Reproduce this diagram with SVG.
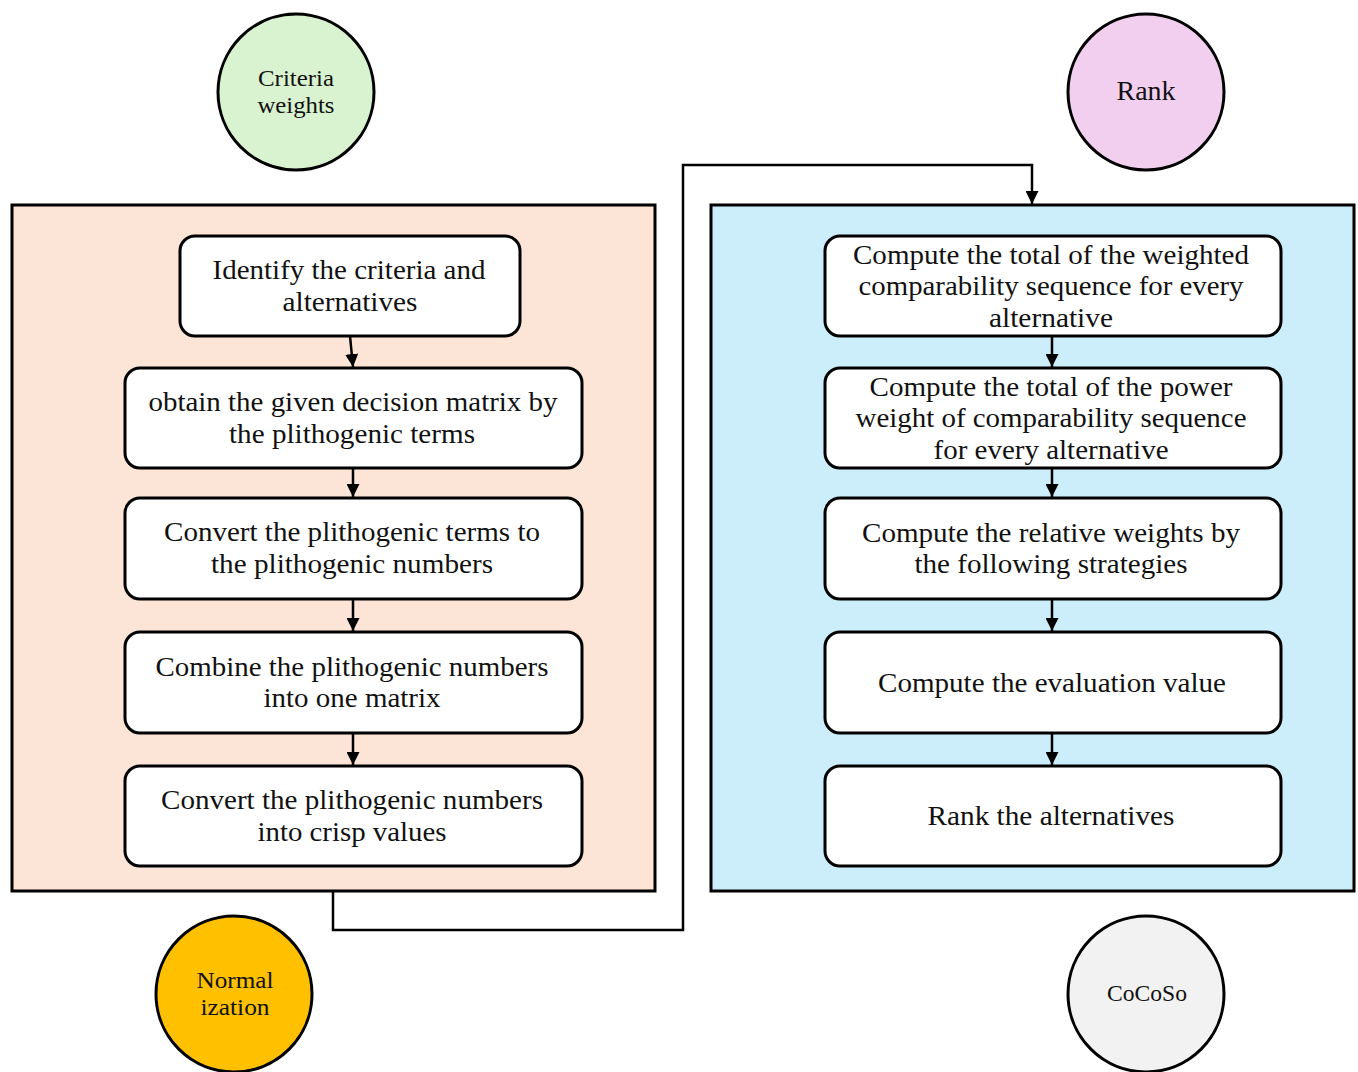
<svg xmlns="http://www.w3.org/2000/svg" width="1358" height="1072" viewBox="0 0 1358 1072">
<defs>
<marker id="ah" markerWidth="13" markerHeight="13" refX="13" refY="6.5" orient="auto" markerUnits="userSpaceOnUse" viewBox="0 0 13 13"><path d="M0,0 L13,6.5 L0,13 Z" fill="#000"/></marker>
<style>
.panel{stroke:#000;stroke-width:3}
.box{fill:#fff;stroke:#000;stroke-width:3}
.circ{stroke:#000;stroke-width:3}
.t text{font-size:27px;fill:#111;text-anchor:middle;dominant-baseline:central}
.t text.sm{font-size:23px}
.conn{fill:none;stroke:#000;stroke-width:2.5}
</style>
</defs>
<rect class="panel" x="12" y="205" width="643" height="686" fill="#FCE4D6"/>
<rect class="panel" x="711" y="205" width="643" height="686" fill="#CCEEFB"/>
<g id="connectors">
<path class="conn" d="M333,891 V930 H683 V165 H1032 V204" marker-end="url(#ah)"/>
<path class="conn" d="M350,336 L353,367" marker-end="url(#ah)"/>
<path class="conn" d="M353,468 V497" marker-end="url(#ah)"/>
<path class="conn" d="M353,599 V631" marker-end="url(#ah)"/>
<path class="conn" d="M353,733 V765" marker-end="url(#ah)"/>
<path class="conn" d="M1052,336 V367" marker-end="url(#ah)"/>
<path class="conn" d="M1052,468 V497" marker-end="url(#ah)"/>
<path class="conn" d="M1052,599 V631" marker-end="url(#ah)"/>
<path class="conn" d="M1052,733 V765" marker-end="url(#ah)"/>
</g>
<g class="t" font-family="Liberation Serif, DejaVu Serif, serif">
<g id="criteria-weights"><circle class="circ" cx="296" cy="92" r="78" fill="#D9F2D0"/><text class="sm" x="296" y="78" textLength="76" lengthAdjust="spacingAndGlyphs">Criteria</text><text class="sm" x="296" y="105" textLength="77" lengthAdjust="spacingAndGlyphs">weights</text></g>
<g id="rank"><circle class="circ" cx="1146" cy="92" r="78" fill="#F2CFEF"/><text x="1146" y="91" textLength="59" lengthAdjust="spacingAndGlyphs">Rank</text></g>
<g id="normalization"><circle class="circ" cx="234" cy="994" r="78" fill="#FFC000"/><text class="sm" x="235" y="980" textLength="77" lengthAdjust="spacingAndGlyphs">Normal</text><text class="sm" x="235" y="1007" textLength="69" lengthAdjust="spacingAndGlyphs">ization</text></g>
<g id="cocoso"><circle class="circ" cx="1146" cy="994" r="78" fill="#F2F2F2"/><text class="sm" x="1147" y="993" textLength="80" lengthAdjust="spacingAndGlyphs">CoCoSo</text></g>
<g id="l1"><rect class="box" x="180" y="236" width="340" height="100" rx="15"/><text x="349" y="270" textLength="273" lengthAdjust="spacingAndGlyphs">Identify the criteria and</text><text x="350" y="302" textLength="135" lengthAdjust="spacingAndGlyphs">alternatives</text></g>
<g id="l2"><rect class="box" x="125" y="368" width="457" height="100" rx="15"/><text x="353" y="402" textLength="409" lengthAdjust="spacingAndGlyphs">obtain the given decision matrix by</text><text x="352" y="434" textLength="246" lengthAdjust="spacingAndGlyphs">the plithogenic terms</text></g>
<g id="l3"><rect class="box" x="125" y="498" width="457" height="101" rx="15"/><text x="352" y="532" textLength="376" lengthAdjust="spacingAndGlyphs">Convert the plithogenic terms to</text><text x="352" y="564" textLength="282" lengthAdjust="spacingAndGlyphs">the plithogenic numbers</text></g>
<g id="l4"><rect class="box" x="125" y="632" width="457" height="101" rx="15"/><text x="352" y="667" textLength="393" lengthAdjust="spacingAndGlyphs">Combine the plithogenic numbers</text><text x="352" y="698" textLength="177" lengthAdjust="spacingAndGlyphs">into one matrix</text></g>
<g id="l5"><rect class="box" x="125" y="766" width="457" height="100" rx="15"/><text x="352" y="800" textLength="382" lengthAdjust="spacingAndGlyphs">Convert the plithogenic numbers</text><text x="352" y="832" textLength="189" lengthAdjust="spacingAndGlyphs">into crisp values</text></g>
<g id="r1"><rect class="box" x="825" y="236" width="456" height="100" rx="15"/><text x="1051" y="255" textLength="396" lengthAdjust="spacingAndGlyphs">Compute the total of the weighted</text><text x="1051" y="286" textLength="385" lengthAdjust="spacingAndGlyphs">comparability sequence for every</text><text x="1051" y="318" textLength="124" lengthAdjust="spacingAndGlyphs">alternative</text></g>
<g id="r2"><rect class="box" x="825" y="368" width="456" height="100" rx="15"/><text x="1051" y="387" textLength="363" lengthAdjust="spacingAndGlyphs">Compute the total of the power</text><text x="1051" y="418" textLength="391" lengthAdjust="spacingAndGlyphs">weight of comparability sequence</text><text x="1051" y="450" textLength="235" lengthAdjust="spacingAndGlyphs">for every alternative</text></g>
<g id="r3"><rect class="box" x="825" y="498" width="456" height="101" rx="15"/><text x="1051" y="533" textLength="378" lengthAdjust="spacingAndGlyphs">Compute the relative weights by</text><text x="1051" y="564" textLength="273" lengthAdjust="spacingAndGlyphs">the following strategies</text></g>
<g id="r4"><rect class="box" x="825" y="632" width="456" height="101" rx="15"/><text x="1052" y="683" textLength="348" lengthAdjust="spacingAndGlyphs">Compute the evaluation value</text></g>
<g id="r5"><rect class="box" x="825" y="766" width="456" height="100" rx="15"/><text x="1051" y="816" textLength="247" lengthAdjust="spacingAndGlyphs">Rank the alternatives</text></g>
</g>
</svg>
